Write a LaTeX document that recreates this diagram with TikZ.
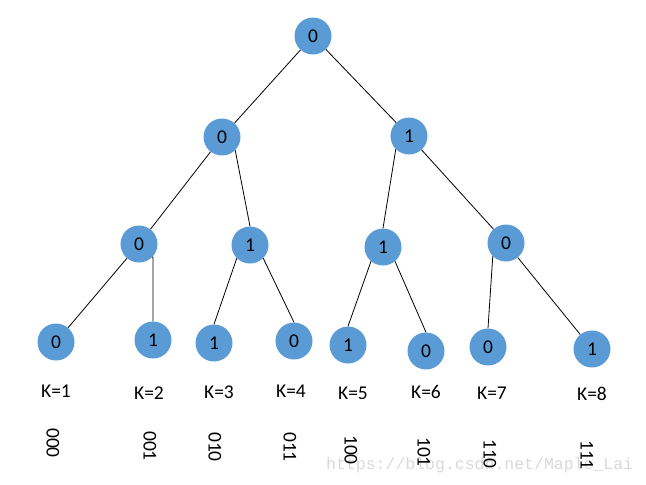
\documentclass[tikz,border=0pt]{standalone}
\usepackage{fontspec}
\setmainfont{Carlito}
\newfontfamily\wmfont{Liberation Mono}
\definecolor{nodeblue}{HTML}{5B9BD5}
\definecolor{wmgray}{HTML}{D9D9D9}
\begin{document}
\begin{tikzpicture}[x=1pt,y=-1pt,
  bitnode/.style={circle,fill=nodeblue,draw=none,minimum size=37pt,inner sep=0pt,font=\fontsize{19.5}{19.5}\selectfont},
  klabel/.style={font=\fontsize{19.5}{19.5}\selectfont,inner sep=0pt},
  code/.style={font=\fontsize{19.5}{19.5}\selectfont,inner sep=0pt,rotate=-90},
  edge/.style={draw=black,line width=0.8pt}]
\useasboundingbox (0,0) rectangle (646,485);
% watermark
\node[font=\wmfont\fontsize{16.5}{16.5}\selectfont,text=wmgray,inner sep=0pt,anchor=west] (wm) at (326,465) {https://blog.csdn.net/Maple\_Lai};
% nodes
\node[bitnode] (r) at (313,36) {0};
\node[bitnode] (a) at (222,137) {0};
\node[bitnode] (b) at (409,136) {1};
\node[bitnode] (aa) at (139,244) {0};
\node[bitnode] (ab) at (250,245) {1};
\node[bitnode] (ba) at (383,247) {1};
\node[bitnode] (bb) at (506,243) {0};
\node[bitnode] (aaa) at (56,342) {0};
\node[bitnode] (aab) at (153,340) {1};
\node[bitnode] (aba) at (214,343) {1};
\node[bitnode] (abb) at (294,341) {0};
\node[bitnode] (baa) at (348,345) {1};
\node[bitnode] (bab) at (426,351) {0};
\node[bitnode] (bba) at (488,347) {0};
\node[bitnode] (bbb) at (592,349) {1};
% edges
\draw[edge] (r) -- (a);
\draw[edge] (r) -- (b);
\draw[edge] (a) -- (aa);
\draw[edge] (a.-45) -- (ab.north);
\draw[edge] (b.-135) -- (ba.north);
\draw[edge] (b) -- (bb);
\draw[edge] (aa) -- (aaa);
\draw[edge] (aa.-42) -- (aab.north);
\draw[edge] (ab.-135) -- (aba.north);
\draw[edge] (ab.-45) -- (abb.north);
\draw[edge] (ba.-130) -- (baa.north);
\draw[edge] (ba.-50) -- (bab.north);
\draw[edge] (bb.-135) -- (bba.north);
\draw[edge] (bb) -- (bbb);
% K labels
\node[klabel] (k1) at (56,391) {K=1};
\node[klabel] (k2) at (149,393) {K=2};
\node[klabel] (k3) at (219,392) {K=3};
\node[klabel] (k4) at (291,391) {K=4};
\node[klabel] (k5) at (353,393) {K=5};
\node[klabel] (k6) at (426,392) {K=6};
\node[klabel] (k7) at (492,393) {K=7};
\node[klabel] (k8) at (592,394) {K=8};
% codes
\node[code] (c1) at (53,443) {000};
\node[code] (c2) at (150,446) {001};
\node[code] (c3) at (215,447) {010};
\node[code] (c4) at (290,447) {011};
\node[code] (c5) at (351,450) {100};
\node[code] (c6) at (424,452) {101};
\node[code] (c7) at (490,454) {110};
\node[code] (c8) at (587,455) {111};
\end{tikzpicture}
\end{document}
